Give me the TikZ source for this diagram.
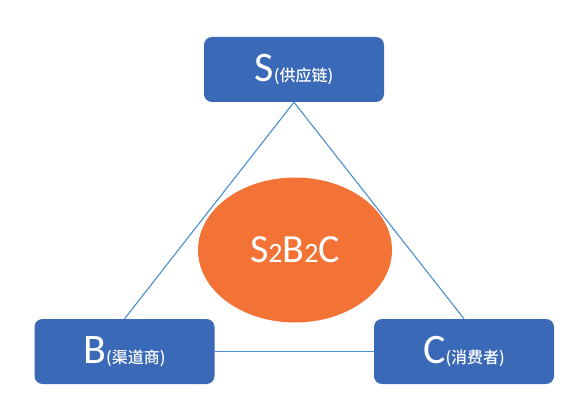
\documentclass[tikz,border=0pt]{standalone}
\usepackage{fontspec}
\setmainfont{Carlito}
\newfontfamily\cjk{Noto Sans CJK SC}[UprightFont=* Medium]
\usetikzlibrary{shapes.geometric}
\definecolor{boxblue}{HTML}{3A69B7}
\definecolor{linkblue}{HTML}{4A8DD0}
\definecolor{huborange}{HTML}{F37337}
\newcommand{\bigletter}[1]{{\fontsize{42}{42}\selectfont #1}}
\newcommand{\rolename}[1]{{\cjk\fontsize{16}{16}\selectfont(#1)}}

\begin{document}
\begin{tikzpicture}[x=1pt,y=-1pt,
 party/.style={fill=boxblue,rounded corners=8pt,minimum width=180pt,minimum height=65pt,text=white,inner sep=0pt},
 hub/.style={ellipse,fill=huborange,minimum width=194pt,minimum height=145pt,text=white,inner sep=0pt},
 link/.style={draw=linkblue,line width=1.1pt}]
\useasboundingbox (0,0) rectangle (582,420);
\node[party] (S) at (294,69.5) {\bigletter{S}\rolename{供应链}};
\node[party] (B) at (124.5,351.5) {\bigletter{B}\rolename{渠道商}};
\node[party] (C) at (464,351.5) {\bigletter{C}\rolename{消费者}};
\node[hub] (H) at (295,250) {\fontsize{40}{40}\selectfont S{\fontsize{28}{28}\selectfont 2}B{\fontsize{28}{28}\selectfont 2}C};
\draw[link] (S.south) -- (B.north);
\draw[link] (S.south) -- (C.north);
\draw[link] (B.east) -- (C.west);
\end{tikzpicture}
\end{document}
